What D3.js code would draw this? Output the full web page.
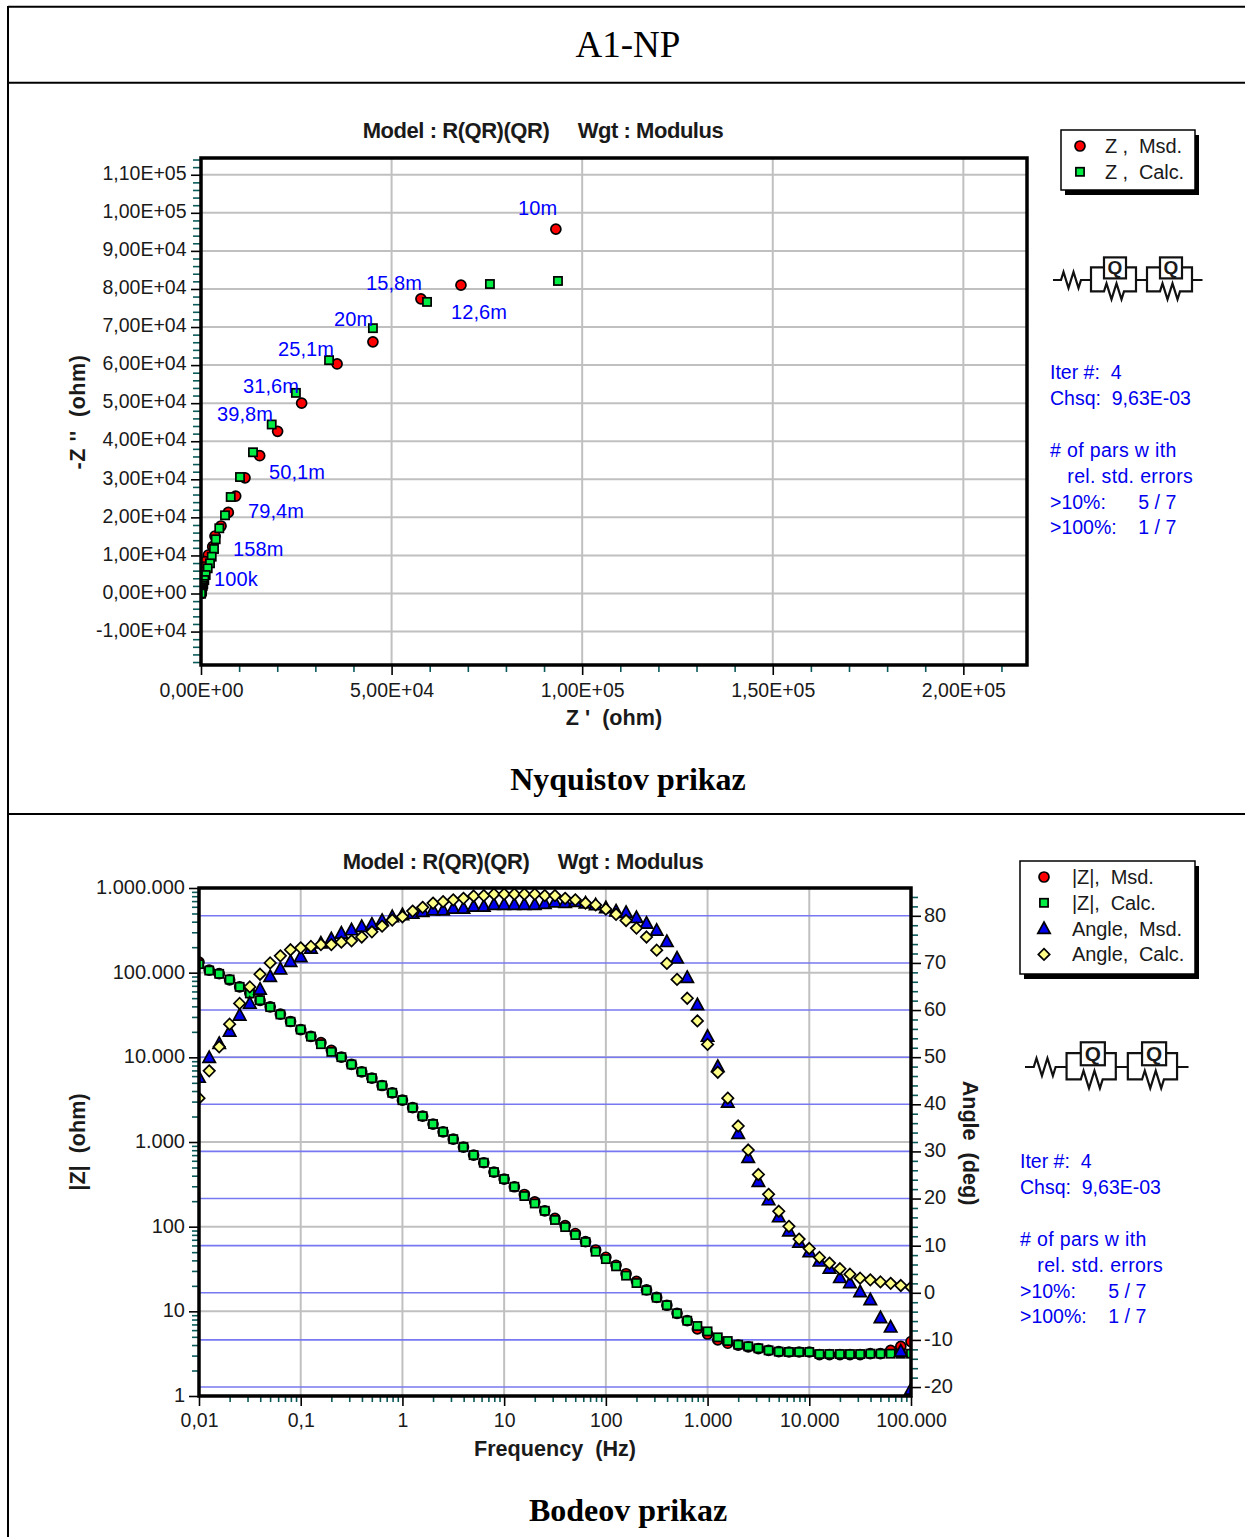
<!DOCTYPE html>
<html><head><meta charset="utf-8">
<script src="https://cdn.jsdelivr.net/npm/d3@7"></script>
<style>html,body{margin:0;padding:0;background:#fff}svg{display:block}text{font-family:"Liberation Sans",Arial,sans-serif;fill:#1a1a1a}</style>
</head><body><svg id="c" width="1245" height="1537"></svg>
<script>
// ---------- Bode data ----------
const frequency=[0.01,0.0126,0.0158,0.02,0.0251,0.0316,0.0398,0.0501,0.0631,0.0794,
0.1,0.126,0.158,0.2,0.251,0.316,0.398,0.501,0.631,0.794,
1,1.26,1.58,2,2.51,3.16,3.98,5.01,6.31,7.94,
10,12.6,15.8,20,25.1,31.6,39.8,50.1,63.1,79.4,
100,126,158,200,251,316,398,501,631,794,
1000,1260,1580,2000,2510,3160,3980,5010,6310,7940,
10000,12600,15800,20000,25100,31600,39800,50100,63100,79400,100000];
const zCalc=[126000,106000,96800,83000,68000,56800,47300,39200,32100,26300,
21300,17600,14300,11600,10050,8240,6750,5680,4650,3810,
3120,2540,2020,1630,1320,1080,871,700,569,441,
365,296,230,188,154,120,98.9,79.6,65.8,50.6,
41.4,34,26.4,21.6,17.7,14.5,11.8,9.46,7.75,6.71,
5.8,4.93,4.46,4.04,3.86,3.66,3.46,3.34,3.31,3.31,
3.31,3.13,3.13,3.13,3.13,3.13,3.16,3.16,3.16,3.16,3.16];
const zMsd=[133000,107000,97500,82000,68000,57500,47000,39500,32400,26500,
21300,17700,14900,12100,10050,8240,6750,5680,4650,3810,
3120,2540,2020,1630,1320,1080,871,700,569,441,
365,296,240,196,154,125,103,83,66.5,53,
43.5,35,27.8,22.6,17.9,14.6,11.8,9.46,7.75,6.2,
5.4,4.6,4.2,4.0,3.8,3.62,3.46,3.34,3.31,3.31,
3.31,3.08,3.08,3.08,3.08,3.08,3.16,3.16,3.45,3.85,4.4];
const angleMsd=[45.7,49.9,52.9,55.5,58.9,61.4,64.4,67.1,68.7,70.3,
71.3,73.1,74.2,75.1,76.3,77,77.7,78.2,79,79.8,
80.2,80.5,80.9,81.2,81.2,81.6,81.6,82,82,82.4,
82.4,82.4,82.4,82.4,82.6,82.9,82.8,83,82.7,82.3,
81.7,81,80.7,79.6,78.4,76.9,74.5,71,66.9,61.1,
54.4,48,40.4,33.8,28.7,23.6,19.7,16.1,13.1,10.7,
8.7,6.7,5.2,3.2,2.1,0.2,-1.5,-5.3,-7.3,-12.4,-20.5];
const angleCalc=[41.3,47.1,52.2,57,61.4,64.9,67.6,70,71.5,72.8,
73.2,73.5,73.9,73.9,74.4,74.7,75.5,76.6,77.8,79.1,
79.8,81,81.8,82.7,83,83.4,83.7,84.2,84.3,84.6,
84.6,84.6,84.6,84.6,84.3,84.3,83.7,83.4,82.7,82.3,
81.4,80.3,79,77.4,75.5,72.7,69.9,66.5,62.5,57.7,
52.7,46.8,41.3,35.4,30.3,25.1,20.9,17.3,14.1,11.4,
9.4,7.5,6.3,5.1,3.95,3.1,2.76,2.3,2,1.55,1.2];
// ---------- Nyquist data ----------
const reMsd=[93100,68200,57700,45100,35700,26400,20100,15400,11540,9100,7160,5250,3670,3070,1915,1050,790,650,520,400,290,205,160,125,100,75,60,48,42,33,27,20,15,10,5,3];
const imMsd=[95700,81000,77400,66100,60300,50000,42600,36200,30400,25600,21300,17730,15100,12290,10110,8350,6960,5650,4070,2510,2000,1615,1310,1070,865,695,565,438,375,307,250,180,120,70,30,5];
const reCalc=[93650,75800,59300,45100,33600,24900,18550,13640,10230,7790,6300,4800,3860,3410,2810,2360,1760,1230,870,600,400,290,205,160,125,100,75,60,48,42,33,27,20,15,10,5];
const imCalc=[82100,81300,76600,69700,61300,52700,44400,37100,30600,25350,20540,17130,14240,11690,9670,7930,6620,4860,3550,2510,2000,1615,1310,1070,865,695,565,438,375,307,250,180,120,70,30,5];
const annotText=["10m","15,8m","12,6m","20m","25,1m","31,6m","39,8m","50,1m","79,4m","158m","100k"];
const annotRe=[83150,43280,65580,34890,20200,11020,4200,17840,12330,8390,3410];
const annotIm=[99420,79720,72100,70270,62380,52670,45310,30080,19830,9850,1970];
// ---------- Axis ticks ----------
const nyqXTicks=[0,50000,100000,150000,200000];
const nyqXLabels=["0,00E+00","5,00E+04","1,00E+05","1,50E+05","2,00E+05"];
const nyqYTicks=[-10000,0,10000,20000,30000,40000,50000,60000,70000,80000,90000,100000,110000];
const nyqYLabels=["-1,00E+04","0,00E+00","1,00E+04","2,00E+04","3,00E+04","4,00E+04","5,00E+04","6,00E+04","7,00E+04","8,00E+04","9,00E+04","1,00E+05","1,10E+05"];
const freqTicks=[0.01,0.1,1,10,100,1000,10000,100000];
const freqLabels=["0,01","0,1","1","10","100","1.000","10.000","100.000"];
const magTicks=[1,10,100,1000,10000,100000,1000000];
const magLabels=["1","10","100","1.000","10.000","100.000","1.000.000"];
const angTicks=[-20,-10,0,10,20,30,40,50,60,70,80];
const infoText=["Iter #:  4","Chsq:  9,63E-03","","# of pars w ith","   rel. std. errors",">10%:      5 / 7",">100%:    1 / 7"];
const infoSpacing=[0,0,0,0.35,0.35,0,0];

const svg=d3.select("#c");
const TEAL="#0b5a5a",RED="#ff0000",GREEN="#00ee44",BLUE="#0000ee",YEL="#ffff88",GRID="#c0c0c0",BGRID="#7878f2";

// page frame
[[8,6.7,1245,6.7],[8,82.7,1245,82.7],[8,814,1245,814],[8,6,8,1537]].forEach(l=>
 svg.append("line").attr("x1",l[0]).attr("y1",l[1]).attr("x2",l[2]).attr("y2",l[3]).attr("stroke","#000").attr("stroke-width",2));
const serif=(t,y,size,w)=>svg.append("text").attr("x",628).attr("y",y).attr("text-anchor","middle")
 .style("font-family","'Liberation Serif','Times New Roman',serif").style("font-size",size+"px").style("font-weight",w).style("fill","#000").text(t);
serif("A1-NP",57,37,"normal");
serif("Nyquistov prikaz",790,32,"bold");
serif("Bodeov prikaz",1521,32,"bold");

function axisG(gen,tx,ty,labels,fs,shift){
 const g=svg.append("g").attr("transform",`translate(${tx},${ty})`).call(gen);
 g.select(".domain").remove();
 g.selectAll("text").style("font-size",fs+"px").style("fill","#1a1a1a");
 if(shift) g.selectAll("text").attr("y",shift);
 g.selectAll(".tick line").attr("stroke",labels?"#000":TEAL).attr("stroke-width",1.6);
 return g;
}
function minorLog(dom){const o=[];for(let e=Math.log10(dom[0]);e<Math.log10(dom[1])-1e-6;e++)for(let k=2;k<=9;k++)o.push(k*Math.pow(10,e));return o;}
const mk={
 circle:(g,x,y)=>g.append("circle").attr("cx",x).attr("cy",y).attr("r",5).attr("fill",RED).attr("stroke","#000").attr("stroke-width",1.7),
 square:(g,x,y)=>g.append("rect").attr("x",x-4.1).attr("y",y-4.1).attr("width",8.2).attr("height",8.2).attr("fill",GREEN).attr("stroke","#000").attr("stroke-width",1.7),
 tri:(g,x,y)=>g.append("path").attr("d",`M${x},${y-6.6}L${x+6.2},${y+4.8}L${x-6.2},${y+4.8}Z`).attr("fill",BLUE).attr("stroke","#000").attr("stroke-width",1.7),
 dia:(g,x,y)=>g.append("path").attr("d",`M${x},${y-5.7}L${x+5.7},${y}L${x},${y+5.7}L${x-5.7},${y}Z`).attr("fill",YEL).attr("stroke","#000").attr("stroke-width",1.7)
};
function legend(x0,y0,x1,y1,rows,symX,txtX){
 svg.append("rect").attr("x",x0+4).attr("y",y0+5).attr("width",x1-x0).attr("height",y1-y0).attr("fill","#000");
 svg.append("rect").attr("x",x0).attr("y",y0).attr("width",x1-x0).attr("height",y1-y0).attr("fill","#fff").attr("stroke","#000").attr("stroke-width",1.5);
 rows.forEach((r,i)=>{const y=y0+16+i*25.8;
  mk[r[0]](svg,symX,y);
  svg.append("text").attr("x",txtX).attr("y",y+7).style("font-size","20px").style("letter-spacing","-0.1px").style("white-space","pre").text(r[1]);});
}
function circuit(x0,y,w){
 const k=w/149, X=v=>x0+v*k, g=svg.append("g").attr("fill","none").attr("stroke","#111").attr("stroke-width",2.2);
 const zig=(a,yy)=>`L${X(a)},${yy}l${2.5*k},${-8*k}l${5*k},${16*k}l${5*k},${-16*k}l${5*k},${16*k}l${2.5*k},${-8*k}`;
 const top=12.6*k, bot=11.4*k;
 g.append("path").attr("d",`M${X(0)},${y}L${X(8)},${y}`+zig(8,y)+`L${X(38)},${y}`);
 [38,94].forEach(a=>{
  g.append("path").attr("d",`M${X(a+13)},${y-top}L${X(a)},${y-top}L${X(a)},${y+bot}L${X(a+13)},${y+bot}`+zig(a+13,y+bot)+`L${X(a+45)},${y+bot}L${X(a+45)},${y-top}L${X(a+35)},${y-top}`);
  g.append("rect").attr("x",X(a+13)).attr("y",y-top-10*k).attr("width",22*k).attr("height",21*k);
  svg.append("text").attr("x",X(a+24)).attr("y",y-top+6.8*k).attr("text-anchor","middle").style("font-size",(19*k)+"px").style("font-weight","bold").text("Q");
 });
 g.append("path").attr("d",`M${X(83)},${y}L${X(94)},${y}M${X(139)},${y}L${X(149.5)},${y}`);
}
function info(x,y0){infoText.forEach((t,i)=>{if(t)svg.append("text").attr("x",x).attr("y",y0+i*25.9).style("font-size","19.5px").style("letter-spacing",infoSpacing[i]+"px").style("fill","#0000ee").style("white-space","pre").text(t);});}
function header(cx,y){svg.append("text").attr("x",cx).attr("y",y).attr("text-anchor","middle").style("font-size","22px").style("font-weight","bold").style("letter-spacing","-0.45px").style("white-space","pre").text("Model : R(QR)(QR)     Wgt : Modulus");}
function axTitle(t,x,y,rot,sp){svg.append("text").attr("transform",`translate(${x},${y}) rotate(${rot})`).attr("text-anchor","middle").style("font-size","21.6px").style("font-weight","bold").style("letter-spacing",(sp||0)+"px").style("white-space","pre").text(t);}
const clip=(id,x,y,w,h)=>svg.append("clipPath").attr("id",id).append("rect").attr("x",x).attr("y",y).attr("width",w).attr("height",h);

// ---------- Nyquist ----------
{
 const L=201,R=1027,T=158,B=665;
 const x=d3.scaleLinear().domain([0,216700]).range([L,R]);
 const y=d3.scaleLinear().domain([-18780,114400]).range([B,T]);
 header(543,138);
 const gr=svg.append("g").attr("stroke",GRID).attr("stroke-width",2);
 nyqXTicks.slice(1).forEach(v=>gr.append("line").attr("x1",x(v)).attr("x2",x(v)).attr("y1",T).attr("y2",B));
 nyqYTicks.forEach(v=>gr.append("line").attr("x1",L).attr("x2",R).attr("y1",y(v)).attr("y2",y(v)));
 const minX=d3.range(0,216000,10000).filter(v=>v%50000), minY=d3.range(-18000,114001,2000).filter(v=>v%10000);
 axisG(d3.axisBottom(x).tickValues(minX).tickFormat("").tickSize(6).tickSizeOuter(0),0,B+1,false,10);
 axisG(d3.axisLeft(y).tickValues(minY).tickFormat("").tickSize(7).tickSizeOuter(0),L-1,0,false,10);
 axisG(d3.axisBottom(x).tickValues(nyqXTicks).tickFormat((d,i)=>nyqXLabels[i]).tickSize(10).tickPadding(8).tickSizeOuter(0),0,B,true,19.5);
 axisG(d3.axisLeft(y).tickValues(nyqYTicks).tickFormat((d,i)=>nyqYLabels[i]).tickSize(10).tickPadding(4.5).tickSizeOuter(0),L,0,true,19.5,-1.5);
 clip("cN",L,T,R-L,B-T);
 const m=svg.append("g").attr("clip-path","url(#cN)");
 reMsd.forEach((v,i)=>mk.circle(m,x(v),y(imMsd[i])));
 reCalc.forEach((v,i)=>mk.square(m,x(v),y(imCalc[i])));
 svg.append("rect").attr("x",L).attr("y",T).attr("width",R-L).attr("height",B-T).attr("fill","none").attr("stroke","#000").attr("stroke-width",3.5);
 annotText.forEach((t,i)=>svg.append("text").attr("x",x(annotRe[i])).attr("y",y(annotIm[i])).style("font-size","20px").style("letter-spacing","0.1px").style("fill","#0000ff").text(t));
 axTitle("-Z ''  (ohm)",85,412,-90,0.55);
 axTitle("Z '  (ohm)",614,725,0);
 legend(1061,130,1195,190,[["circle","Z ,  Msd."],["square","Z ,  Calc."]],1080,1105);
 circuit(1053,280,149);
 info(1050,379);
}
// ---------- Bode ----------
{
 const L=199,R=911,T=888,B=1396;
 const x=d3.scaleLog().domain([0.01,100000]).range([L,R]);
 const y=d3.scaleLog().domain([1,1000000]).range([B,T]);
 const a=d3.scaleLinear().domain([-21.9,85.9]).range([B,T]);
 header(523,869);
 const gr=svg.append("g").attr("stroke",GRID).attr("stroke-width",2);
 freqTicks.slice(1,-1).forEach(v=>gr.append("line").attr("x1",x(v)).attr("x2",x(v)).attr("y1",T).attr("y2",B));
 magTicks.slice(1,-1).forEach(v=>gr.append("line").attr("x1",L).attr("x2",R).attr("y1",y(v)).attr("y2",y(v)));
 const gb=svg.append("g").attr("stroke",BGRID).attr("stroke-width",1.6);
 angTicks.forEach(v=>gb.append("line").attr("x1",L).attr("x2",R).attr("y1",a(v)).attr("y2",a(v)));
 axisG(d3.axisBottom(x).tickValues(minorLog([0.01,100000])).tickFormat("").tickSize(5).tickSizeOuter(0),0,B+1,false,10);
 axisG(d3.axisLeft(y).tickValues(minorLog([1,1000000])).tickFormat("").tickSize(6).tickSizeOuter(0),L-1,0,false,10);
 axisG(d3.axisRight(a).tickValues(d3.range(-20,86,2).filter(v=>v%10)).tickFormat("").tickSize(6).tickSizeOuter(0),R+1,0,false,10);
 axisG(d3.axisBottom(x).tickValues(freqTicks).tickFormat((d,i)=>freqLabels[i]).tickSize(10).tickPadding(7).tickSizeOuter(0),0,B,true,19.5);
 axisG(d3.axisLeft(y).tickValues(magTicks).tickFormat((d,i)=>magLabels[i]).tickSize(10).tickPadding(4).tickSizeOuter(0),L,0,true,20,-1);
 axisG(d3.axisRight(a).tickValues(angTicks).tickFormat(d=>d).tickSize(10).tickPadding(3).tickSizeOuter(0),R,0,true,20,-1);
 clip("cB",L,T,R-L,B-T);
 const m=svg.append("g").attr("clip-path","url(#cB)");
 frequency.forEach((f,i)=>mk.circle(m,x(f),y(zMsd[i])));
 frequency.forEach((f,i)=>mk.square(m,x(f),y(zCalc[i])));
 frequency.forEach((f,i)=>mk.tri(m,x(f),a(angleMsd[i])));
 frequency.forEach((f,i)=>mk.dia(m,x(f),a(angleCalc[i])));
 svg.append("rect").attr("x",L).attr("y",T).attr("width",R-L).attr("height",B-T).attr("fill","none").attr("stroke","#000").attr("stroke-width",3.5);
 axTitle("|Z|  (ohm)",85,1142,-90);
 axTitle("Angle  (deg)",963,1143,90);
 axTitle("Frequency  (Hz)",555,1456,0);
 legend(1020,861,1195,974,[["circle","|Z|,  Msd."],["square","|Z|,  Calc."],["tri","Angle,  Msd."],["dia","Angle,  Calc."]],1044,1072);
 circuit(1025,1067,163);
 info(1020,1168);
}
</script></body></html>
